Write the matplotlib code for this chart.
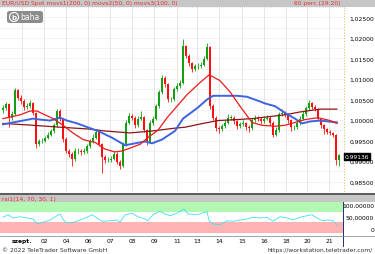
import numpy as np
import matplotlib.pyplot as plt
from matplotlib.patches import Rectangle, FancyBboxPatch, Ellipse
from matplotlib.lines import Line2D

# hourly EUR/USD candles (one every ~3 px of the original)
closes = [1.0029, 1.0038, 1.0006, 1.0015, 1.0073, 1.0054, 1.0047, 1.0031, 1.0034, 1.0041,
          1.0017, 0.9941, 0.9948, 0.9950, 0.9957, 0.9964, 0.9973, 0.9987, 1.0022, 1.0003,
          0.9953, 0.9925, 0.9918, 0.9906, 0.9925, 0.9925, 0.9922, 0.9925, 0.9936, 0.9948,
          0.9957, 0.9971, 0.9941, 0.9911, 0.9902, 0.9904, 0.9906, 0.9918, 0.9899, 0.9888,
          0.9941, 0.9994, 1.0010, 1.0006, 0.9987, 1.0003, 1.0008, 0.9976, 0.9946, 0.9994,
          1.0003, 1.0034, 1.0068, 1.0103, 1.0087, 1.0050, 1.0050, 1.0075, 1.0082, 1.0091,
          1.0179, 1.0156, 1.0138, 1.0124, 1.0131, 1.0131, 1.0135, 1.0149, 1.0177, 1.0034,
          1.0006, 0.9980, 0.9978, 0.9985, 0.9994, 1.0006, 1.0006, 0.9997, 0.9985, 0.9990,
          0.9992, 0.9983, 0.9980, 0.9999, 1.0006, 1.0003, 0.9997, 1.0003, 1.0006, 0.9994,
          0.9964, 0.9976, 1.0015, 1.0017, 1.0013, 0.9999, 0.9983, 0.9983, 0.9992, 1.0003,
          1.0015, 1.0029, 1.0041, 1.0031, 1.0027, 1.0003, 0.9987, 0.9978, 0.9971, 0.9969,
          0.9964, 0.9902, 0.9914]
highs = [1.0036, 1.0045, 1.0041, 1.0022, 1.0079, 1.0076, 1.0060, 1.0050, 1.0041, 1.0048,
         1.0044, 1.0020, 0.9954, 0.9957, 0.9962, 0.9970, 0.9979, 0.9993, 1.0027, 1.0026,
         1.0006, 0.9958, 0.9930, 0.9922, 0.9931, 0.9933, 0.9930, 0.9932, 0.9942, 0.9954,
         0.9966, 0.9978, 0.9975, 0.9945, 0.9915, 0.9911, 0.9913, 0.9924, 0.9922, 0.9903,
         0.9946, 0.9999, 1.0016, 1.0014, 1.0009, 1.0009, 1.0021, 1.0011, 0.9979, 0.9999,
         1.0009, 1.0039, 1.0073, 1.0110, 1.0106, 1.0090, 1.0057, 1.0081, 1.0090, 1.0098,
         1.0196, 1.0183, 1.0160, 1.0142, 1.0137, 1.0138, 1.0141, 1.0155, 1.0187, 1.0180,
         1.0038, 1.0010, 0.9985, 0.9991, 1.0001, 1.0015, 1.0012, 1.0010, 1.0000, 0.9996,
         0.9999, 0.9996, 0.9988, 1.0005, 1.0013, 1.0010, 1.0007, 1.0009, 1.0012, 1.0009,
         0.9997, 0.9982, 1.0020, 1.0026, 1.0021, 1.0016, 1.0002, 0.9989, 0.9998, 1.0009,
         1.0021, 1.0035, 1.0048, 1.0044, 1.0036, 1.0030, 1.0006, 0.9990, 0.9981, 0.9975,
         0.9972, 0.9967, 0.9918]
lows = [1.0018, 1.0024, 0.9982, 1.0001, 1.0012, 1.0049, 1.0040, 1.0025, 1.0027, 1.0030,
        1.0012, 0.9933, 0.9936, 0.9943, 0.9946, 0.9953, 0.9960, 0.9969, 0.9983, 0.9997,
        0.9946, 0.9919, 0.9910, 0.9888, 0.9901, 0.9917, 0.9915, 0.9918, 0.9921, 0.9932,
        0.9944, 0.9953, 0.9936, 0.9872, 0.9895, 0.9897, 0.9899, 0.9902, 0.9892, 0.9882,
        0.9885, 0.9937, 0.9990, 1.0000, 0.9981, 0.9983, 0.9999, 0.9970, 0.9940, 0.9943,
        0.9989, 1.0000, 1.0030, 1.0064, 1.0081, 1.0044, 1.0043, 1.0046, 1.0071, 1.0078,
        1.0088, 1.0150, 1.0132, 1.0118, 1.0120, 1.0125, 1.0127, 1.0131, 1.0145, 1.0028,
        0.9999, 0.9973, 0.9968, 0.9974, 0.9981, 0.9990, 1.0000, 0.9991, 0.9979, 0.9981,
        0.9986, 0.9977, 0.9972, 0.9976, 0.9995, 0.9998, 0.9991, 0.9993, 0.9999, 0.9988,
        0.9959, 0.9960, 0.9972, 1.0010, 1.0007, 0.9993, 0.9974, 0.9977, 0.9979, 0.9988,
        0.9999, 1.0011, 1.0025, 1.0026, 1.0021, 0.9997, 0.9981, 0.9967, 0.9965, 0.9963,
        0.9958, 0.9890, 0.9888]
first_open = 1.0024

# moving averages (bar position, value)
ma200_x = [0, 10, 19, 29, 34, 42.3, 49.7, 57.3, 60.7, 66.7, 71.7, 78, 83, 94, 99, 105.7, 111.3]
ma200_y = [0.99919, 0.99873, 0.99826, 0.99780, 0.99734, 0.99687, 0.99734, 0.99803, 0.99826,
           0.99919, 0.99988, 1.00012, 1.00035, 1.00127, 1.00197, 1.00266, 1.00266]
ma50_x = [0, 5.7, 9, 11.3, 13.3, 16.7, 20, 23.3, 26.7, 30.7, 34, 37.3, 39.7, 42.3, 45.7, 48.3,
          51.7, 54.7, 58, 61.3, 65.7, 68.7, 72.3, 75.7, 79, 83, 86.3, 90.7, 94, 97.3, 100.7,
          105, 109, 111.3]
ma50_y = [1.00035, 1.00127, 1.00220, 1.00220, 1.00150, 1.00035, 0.99873, 0.99687, 0.99525,
          0.99456, 0.99294, 0.99225, 0.99248, 0.99317, 0.99410, 0.99572, 0.99757, 1.00058,
          1.00336, 1.00613, 1.00914, 1.01100, 1.00961, 1.00683, 1.00336, 0.99942, 0.99873,
          0.99850, 0.99873, 0.99942, 1.00012, 1.00058, 0.99988, 0.99919]
ma100_x = [0, 3.3, 6.7, 10, 12.3, 15.7, 19, 21.3, 24.7, 29, 31.7, 36.3, 40.7, 44, 47.3, 49.7,
           53, 57.3, 60, 64.7, 68, 70, 72.3, 78, 81.3, 85.7, 87.3, 90.7, 94, 97.3, 99.7,
           102.3, 105.7, 111.3]
ma100_y = [0.99896, 0.99942, 0.99988, 1.00035, 1.00012, 0.99988, 1.00058, 0.99988, 0.99919,
           0.99803, 0.99734, 0.99572, 0.99387, 0.99433, 0.99479, 0.99433, 0.99526, 0.99734,
           1.00035, 1.00289, 1.00498, 1.00590, 1.00590, 1.00590, 1.00567, 1.00451, 1.00405,
           1.00336, 1.00174, 1.00035, 0.99919, 0.99965, 0.99988, 0.99942]

# RSI(14)
rsi_x = [0, 1.7, 3.3, 5.7, 8, 10, 11.3, 13.3, 15.7, 18, 19, 20.7, 23, 25.7, 28.3, 29.7, 31.3,
         33, 35.7, 38, 39, 40.7, 43, 45, 47.3, 48.3, 50, 52.3, 54, 55.7, 58, 60.3, 61.7,
         64.7, 68, 68.7, 70, 72.3, 74.7, 76.7, 79, 81.3, 83.3, 85.7, 88, 90, 92.3, 94.7,
         96.7, 99, 101.3, 103, 104.7, 106.3, 108.3, 110, 111.3]
rsi_y = [49, 59, 46, 51, 46, 42, 22, 29, 38, 55, 62, 29, 27, 38, 51, 59, 46, 33, 35, 38,
         29, 59, 65, 51, 42, 35, 59, 73, 62, 55, 65, 82, 62, 59, 72, 35, 22, 19, 35, 33,
         38, 42, 49, 46, 49, 33, 51, 46, 38, 49, 55, 59, 46, 35, 38, 35, 19]

date_pos = [6.3, 13.7, 21, 28.3, 35.7, 43, 50.3, 58, 64.7, 72, 79.7, 87, 94.3, 101.3, 108.7]
date_labels = ['szept.', '02', '04', '06', '07', '08', '09', '11', '13', '14', '15', '16',
               '18', '20', '21']
price_ticks = [0.985, 0.990, 0.995, 1.000, 1.005, 1.010, 1.015, 1.020, 1.025]
rsi_ticks = [0, 50, 100]
last_price = '0.99136'

W, H = 375, 255
FS = 4.3
RED_TXT = '#e8302a'


def fx(px):
    return px / W


def fy(py):
    return 1 - py / H


fig = plt.figure(figsize=(W / 100, H / 100), dpi=100)
ax = fig.add_axes([0, fy(193), fx(343), (193 - 8) / H])
rax = fig.add_axes([0, fy(236), fx(343), (236 - 203) / H])

# candles
c = np.array(closes)
o = np.array([first_open] + closes[:-1])
x = np.arange(len(c))
up = c >= o
cols = np.where(up, '#12a012', '#ff1010')
ax.vlines(x, lows, highs, colors=cols, lw=0.6, zorder=3)
ax.bar(x, np.maximum(np.abs(c - o), 0.00008), bottom=np.minimum(o, c), width=0.85,
       color=cols, lw=0, zorder=3)

ax.plot(ma200_x, ma200_y, color='#8b1515', lw=0.9, zorder=4)
ax.plot(ma100_x, ma100_y, color='#3c64e0', lw=1.4, zorder=4)
ax.plot(ma50_x, ma50_y, color='#f01818', lw=0.9, zorder=4)

ax.set_xlim(-1, 113.33)
ax.set_ylim(0.98414, 1.02697)
ax.set_xticks(date_pos)
ax.set_xticklabels([])
ax.set_yticks(price_ticks)
ax.set_yticks(np.arange(0.9825, 1.0275, 0.0025), minor=True)
ax.set_yticklabels([f'{v:.5f}'.replace('.', ',') for v in price_ticks])
ax.yaxis.tick_right()
ax.tick_params(axis='y', which='both', length=0, labelsize=FS, pad=22.5)
ax.tick_params(axis='x', length=0)
for lab in ax.get_yticklabels():
    lab.set_ha('right')
ax.grid(axis='x', color='#e2e2e2', lw=0.6)
ax.grid(axis='y', which='both', color='#cfcfcf', lw=0.5, ls=(0, (1, 2)))
ax.set_axisbelow(True)
for s in ax.spines.values():
    s.set_visible(False)

# RSI panel
rax.axhspan(70, 110, color='#b2f7b2', lw=0)
rax.axhspan(-15, 30, color='#ffb3b3', lw=0)
rax.plot(rsi_x, rsi_y, color='#3fe0ee', lw=0.6)
rax.set_xlim(-1, 113.33)
rax.set_ylim(-22, 110)
rax.set_yticks(rsi_ticks)
rax.set_yticklabels(['0', '50,00000', '100,00000'])
rax.yaxis.tick_right()
rax.tick_params(axis='y', length=0, labelsize=FS, pad=22.5)
for lab in rax.get_yticklabels():
    lab.set_ha('right')
rax.set_xticks(date_pos)
rax.set_xticklabels(date_labels)
rax.tick_params(axis='x', length=0, labelsize=FS, pad=2.5)
rax.get_xticklabels()[0].set_fontweight('bold')
for s in rax.spines.values():
    s.set_visible(False)

# title bars and frame
fig.patches.append(Rectangle((0, fy(8)), 1, 8 / H, transform=fig.transFigure,
                             color='#c6c6c6', lw=0, zorder=0))
fig.patches.append(Rectangle((0, fy(203)), 1, 7 / H, transform=fig.transFigure,
                             color='#c6c6c6', lw=0, zorder=0))
fig.lines.append(Line2D([0, 1], [fy(195), fy(195)], transform=fig.transFigure,
                        color='#404040', lw=1.2))
fig.lines.append(Line2D([fx(343.5), fx(343.5)], [fy(8), fy(193)], transform=fig.transFigure,
                        color='#e8c060', lw=0.8, ls=(0, (1, 1.5))))
fig.lines.append(Line2D([fx(343), fx(343)], [fy(203), fy(247)], transform=fig.transFigure,
                        color='#203070', lw=0.7))
fig.lines.append(Line2D([0, 1], [fy(236.5), fy(236.5)], transform=fig.transFigure,
                        color='#808080', lw=0.5))
fig.text(fx(2), fy(4), 'EUR/USD Spot movs1(200, 0) movs2(50, 0) movs3(100, 0)',
         color=RED_TXT, fontsize=FS, va='center', ha='left')
fig.text(fx(341), fy(4), '60 perc (29:20)', color=RED_TXT, fontsize=FS, va='center', ha='right')
fig.text(fx(2), fy(199.5), 'rsi1(14, 70, 30, 1)', color=RED_TXT, fontsize=FS,
         va='center', ha='left')

# last price marker
fig.text(fx(345), fy(157.5), last_price, color='white', fontsize=FS, va='center', ha='left',
         bbox=dict(boxstyle='square,pad=0.1', fc='black', ec='black'))

# logo
fig.patches.append(FancyBboxPatch((fx(7), fy(24)), 36 / W, 12 / H, transform=fig.transFigure,
                                  boxstyle='round,pad=0,rounding_size=0.008',
                                  fc='#8c8c8c', ec='none'))
fig.patches.append(Ellipse((fx(14), fy(18)), 9 / W, 9 / H, transform=fig.transFigure,
                           fc='none', ec='white', lw=0.8))
fig.text(fx(14), fy(18), 'b', color='white', fontsize=5, fontweight='bold',
         ha='center', va='center')
fig.text(fx(20), fy(18), 'baha', color='white', fontsize=5.5, ha='left', va='center')

# footer
fig.text(fx(2), fy(251), '\u00a9 2022 TeleTrader Software GmbH', fontsize=FS,
         color='#303030', va='center', ha='left')
fig.text(fx(373), fy(251), 'https://workstation.teletrader.com/', fontsize=FS,
         color='#303030', va='center', ha='right')

fig.savefig('out.png', dpi=100)
